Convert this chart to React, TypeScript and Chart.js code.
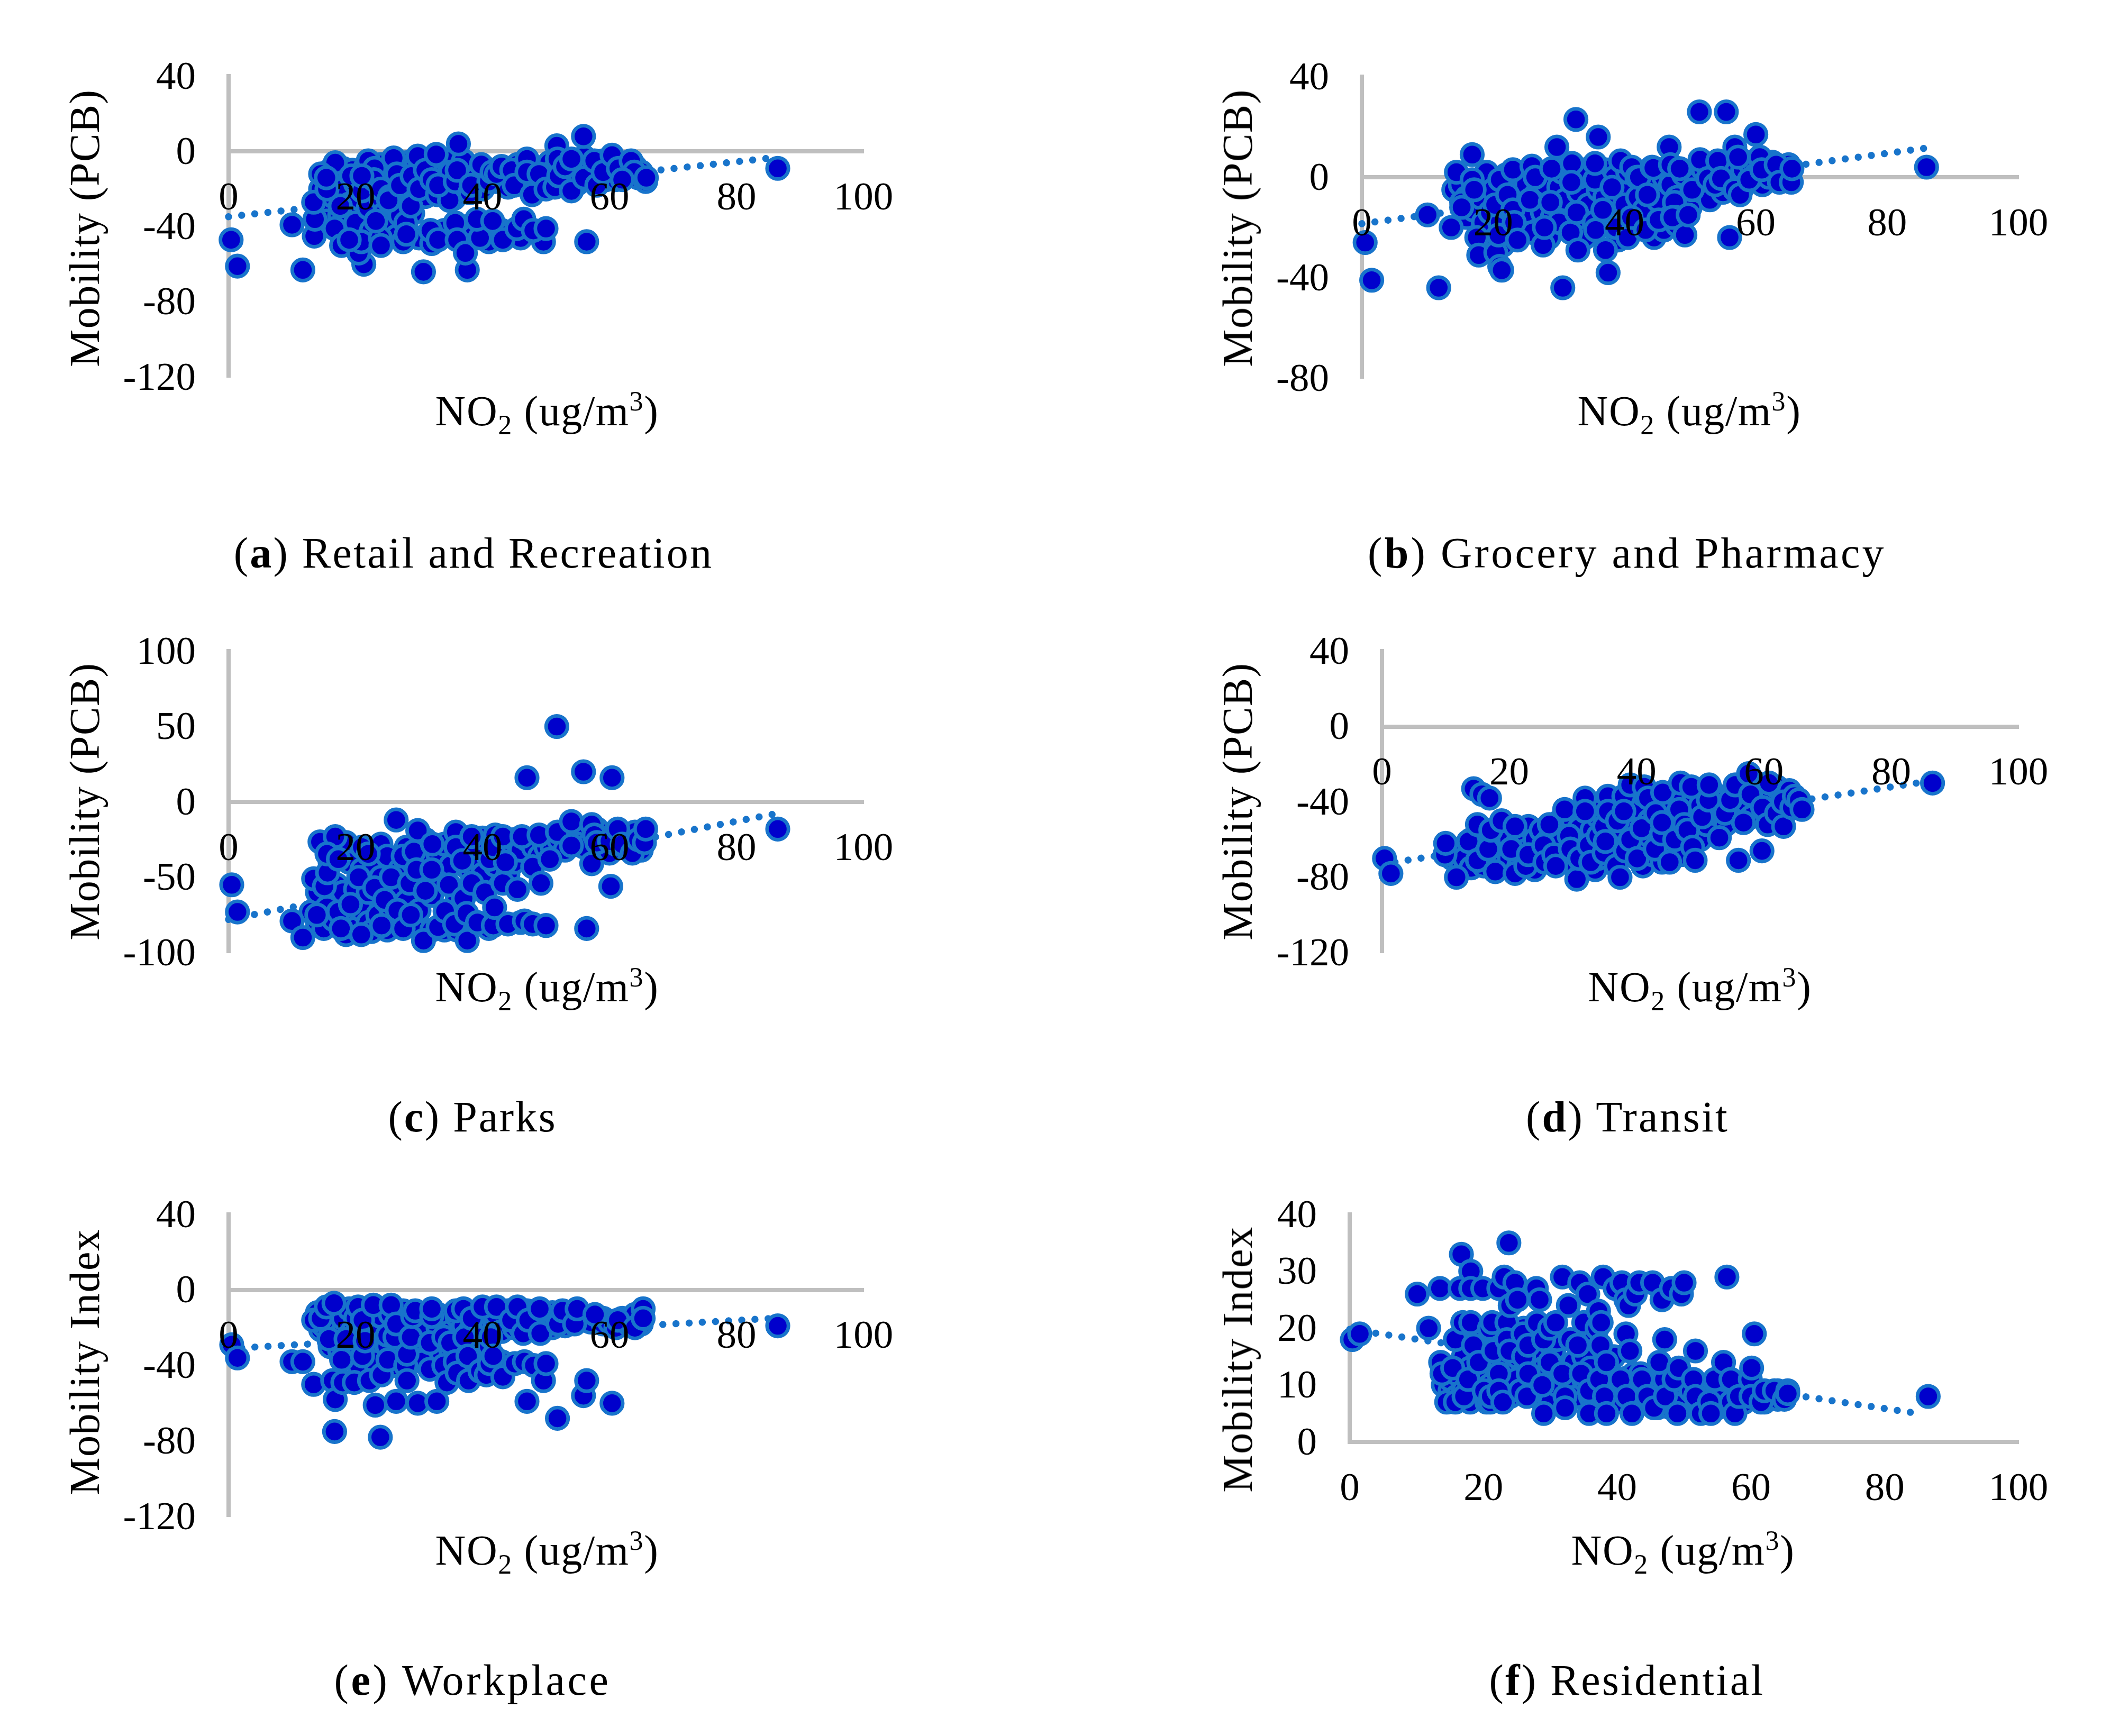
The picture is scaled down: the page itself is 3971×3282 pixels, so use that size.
import React, { useEffect, useRef } from "react";
import { Chart, registerables } from "chart.js";

Chart.register(...registerables);

const xTicksMax = 100;

const retailCloud = [
  [14.5,-20],[15,-30],[15.5,-37],[16,-10],[16.5,-24],[17,-15],[17.5,-34],[18,-9],[18,-20],[18.5,-44],[19,-28],[19.5,-10],[20,-17],[20,-38],[20.5,-25],[21.5,-9],[22,-19],[22,-30],[22.5,-42],[23,-12],[24,-25],[24,-7],[24.5,-33],[25,-16],[25,-41],[26,-8],[26,-29],[26.5,-45],[27,-12],[27,-34],[28,-6],[28,-22],[29,-17],[29,-33],[29.5,-8],[30,-13],[30,-46],[31,-5],[31,-24],[32,-19],[32,-49],[33,-8],[33.5,-13],[34,-21],[34,-42],[34.5,-5],[35,-11],[35.5,-25],[37,-15],[37,-40],[38,-9],[38.5,-45],[39,-13],[40,-20],[40,-40],[40.5,-9],[41,-48],[42,-16],[43,-14],[43,-42],[44,-19],[44,-44],[45,-12],[45.5,-7],[46,-15],[46,-46],[47,-18],[48,-8],[48.5,-17],[49.5,-9],[50,-14],[50.5,-6],[51,-11],[52,-17],[52.5,-8],[53,-15],[54,-11],[55,-8],[55,-17],[56,-3],[56.5,-9],[57,-15],[58,-9],[59,-5],[59.5,-15],[60,-10],[61,-5],[61,-15],[62,-9],[63,-13],[64,-8],[64.5,-14],[65,-11]
];
const retailPoints = [
  [0.4,-47],[1.4,-61],[11.7,-63],[30.7,-64],[37.6,-63],[21.3,-60],[10,-39],[13.5,-45],[13.6,-36],[13.4,-27],[16.7,-41],[17.8,-50],
  [20.5,-54],[20.9,-48],[23.9,-46],[23.2,-37],[27.5,-48],[27.9,-38],[28,-44],[31.8,-42],[33,-47],[35.7,-38],[36,-47],[37.3,-54],
  [39.6,-46],[39.1,-36],[41.6,-37],[43.2,-47],[45.4,-41],[46.5,-36],[49.6,-48],[48,-42],[50,-41],[56.4,-48],[19,-47],[24,-50],
  [17.6,-29],[15.5,-20],[16.8,-6],[14.5,-12],[15.4,-14],[19.3,-13],[21,-21],[22,-5],[23,-9],[22.9,-15],[24,-20],[21,-13],
  [26,-3.5],[26.5,-12],[25.4,-24],[25.2,-26],[27,-18],[28.7,-29],[28.9,-13],[29.8,-2.5],[30,-20],[31,-10],[32.7,-1.6],[32,-15],
  [32.9,-23],[34.8,-26],[33,-18],[35.7,-16],[37,-5],[36.2,4],[36,-10],[38,-22],[38.2,-18],[39.8,-7],[41,-16],[41.5,-11],[42.2,-12],
  [43,-8],[44.6,-10],[45,-18],[47,-4],[47,-11],[47.8,-23],[48.9,-12],[50,-20],[51.4,-19],[51.7,3],[51.8,-4],[52,-13],[53,-8],
  [54,-4],[54,-21],[55.9,8],[56,-14],[57.6,-5],[58,-18],[59,-11],[60.4,-2],[61.4,-9],[63.4,-5],[63.9,-11],[62,-15],[65.7,-16],[65.8,-14],[86.5,-9]
];
const retailTrend = [[0,-34.7],[86,-3.3]];

const groceryCloud = [
  [14,-5],[15,-3],[16,-8],[16,-16],[17,-13],[18,-1],[18,-8],[18.5,-18],[19,2],[19,-26],[19.5,-14],[20,-5],[21,-18],[21.5,-27],[22,1],[22,-12],[23,-6],[24,-20],[24.5,0],[25,-14],[25,-3],[26,-22],[26.5,-7],[27,2],[27.5,-14],[28,-3],[28.5,-24],[29,-16],[30,-4],[30,-18],[30.5,2],[31,-9],[33,-6],[33,0],[33.5,-17],[34,3],[34,-24],[34.5,-11],[36,-5],[37,3],[37,-8],[38,-15],[38.5,0],[39,-25],[40,-5],[40,-11],[40.5,2],[41,-19],[42,-8],[43,0],[43,-13],[44,-4],[44.5,-24],[45,-9],[46,0],[46,-21],[47,-3],[48,-8],[48,-19],[49,1],[50,-8],[50,-12],[51,-2],[52,3],[52,-6],[53,5],[53,-9],[55,2],[55,-6],[56,6],[56,-2],[58,3],[58,-4],[59,6],[60,1],[61,-3],[61.5,4],[62,0],[62.5,6],[64,2],[64.5,-1],[65,5]
];
const groceryPoints = [
  [0.5,-26],[1.5,-41],[11.7,-44],[10,-15],[13.6,-20],[15.2,-10],[15.2,-12],[14.4,2],[16.8,9],[16.8,-1],[17.1,-5],[17.5,-24],[17.8,-31],
  [20.3,-11],[20.4,-30],[20.8,-23],[21,-35.5],[21.3,-37],[21,-1],[22.2,-7],[23,3],[23,-13],[23.2,-18],[23.7,-25],[25.6,-9],[25.9,4.4],
  [26.4,0],[27.6,-27],[27.8,-20],[28.7,-10],[28.9,3.4],[29.7,12],[30.6,-44],[31.8,-22],[32,5.5],[31.9,-2],[32.6,23],[32.7,-14],[32.9,-29],
  [35.4,-18],[35.5,-1],[35.5,5.5],[35.6,-21],[36,16],[36.7,-13],[37.1,-29],[37.5,-38],[38.1,-4],[38.7,-20],[39.4,6.5],[40.5,-24],[41,-16],
  [41.1,4],[41.9,0],[42.2,0],[43.2,-21],[43.5,-7],[44.2,4],[44.4,3.7],[45.2,-17],[46.8,12],[47,5],[47.6,-10],[47.9,-16],[47.3,-16],[48.4,3.4],
  [49.2,-23],[49.7,-15],[50.3,-5],[51.4,26],[51.5,7],[52.7,-0.5],[53.8,-3],[54.2,6.5],[54.7,-0.5],[55.5,26],[56,-24],[56.8,12],[56.8,-5],
  [57.6,-7],[57.3,8],[59,-1],[60,17],[60.6,8],[60.9,3],[63.1,5],[63.6,-2],[65.4,-2],[65.5,3.4],[86,4]
];
const groceryTrend = [[0,-18.5],[86,11.6]];

const parksCloud = [
  [13,-73],[14,-80],[14,-60],[15,-84],[15.5,-70],[16,-40],[16.5,-78],[17,-30],[17,-55],[18,-60],[18,-80],[18.5,-88],[18.5,-27],[19,-40],[19.5,-75],[20,-84],[20,-58],[21,-72],[21,-45],[22,-80],[22,-60],[22.5,-86],[23,-42],[23.5,-75],[24,-28],[24,-50],[25,-85],[25,-36],[25.5,-70],[26,-60],[27,-45],[27,-78],[28,-30],[28,-66],[29,-82],[29,-40],[30,-52],[30,-72],[31,-25],[31,-38],[32,-85],[32,-62],[33,-35],[33,-50],[34,-28],[34,-85],[35,-42],[36,-65],[36,-85],[37,-30],[38,-45],[38,-82],[39,-36],[39,-30],[40,-24],[40,-48],[41,-84],[42,-42],[42,-22],[43,-30],[44,-48],[44,-33],[45,-25],[45,-40],[46,-80],[46,-32],[47,-25],[48,-30],[49,-36],[50,-25],[50,-30],[51,-30],[52,-25],[53,-32],[53,-20],[55,-22],[55,-28],[56,-30],[58,-18],[59,-24],[60,-34],[61,-28],[62,-22],[63,-30],[64,-20],[65,-32]
];
const parksPoints = [
  [0.5,-55],[1.4,-73],[10,-79],[11.7,-90],[13.9,-75],[13.4,-51],[15.1,-56],[15.6,-47],[14.4,-26.5],[16.8,-23],[15.5,-34.5],[17.3,-38],[17.3,-73],
  [17.7,-84],[19.2,-68],[20.5,-50],[20.9,-88],[21,-30],[22,-34.5],[23,-57],[24.1,-82],[24.6,-65],[25.6,-50],[26.4,-12],[26.6,-72],[27.5,-84],
  [27.5,-36],[28.5,-54],[28.7,-75],[29.2,-33],[29.6,-45],[29.8,-19],[30.7,-92],[31,-59],[32,-45],[32.1,-28],[33,-83],[34.1,-72.5],[34.7,-55],
  [35.6,-81],[35.8,-20],[35.8,-30],[36.8,-39],[37,-64],[37.5,-74],[37.6,-92],[38.3,-23],[38.3,-54],[39.2,-80],[40.4,-60],[41.1,-38],[41.7,-30],
  [41.7,-82],[41.9,-70],[43.2,-23],[43.2,-54],[43.6,-40],[44,-81],[45.5,-58],[46.2,-23],[46.6,-79],[47,16],[47.9,-43],[47.9,-81],[48.9,-22],
  [49.2,-54],[50,-82],[50.6,-38],[51.7,50],[51.8,-20],[54,-13],[54,-29],[55.9,20],[56.4,-84],[57.2,-15],[57.2,-41],[57.6,-22],[58,-27],[60.2,-56],
  [60,-26],[60.4,16],[61.3,-18],[62,-28],[63.6,-34],[64.5,-25],[65.5,-27],[65.7,-18],[86.5,-18]
];
const parksTrend = [[0,-78],[86,-8]];

const transitCloud = [
  [11,-70],[12,-65],[12.5,-74],[13,-70],[14,-60],[14,-75],[15,-60],[16,-55],[16,-74],[17,-62],[17,-70],[18,-58],[18.5,-66],[19,-73],[19.5,-55],[20,-70],[20,-60],[21,-63],[21.5,-74],[22,-57],[22.5,-66],[23,-53],[24,-60],[24,-76],[25,-55],[25,-68],[26,-61],[26.5,-72],[27,-56],[28,-50],[28,-62],[28.5,-72],[29,-46],[30,-50],[30.5,-62],[31,-54],[32,-68],[33,-42],[33,-55],[33.5,-76],[34,-48],[34,-70],[35,-40],[36,-50],[36,-60],[37,-42],[37,-68],[38,-55],[39,-40],[39,-50],[40,-62],[40.5,-44],[41,-36],[41,-74],[42,-50],[42,-58],[42.5,-68],[43,-40],[44,-72],[44.5,-44],[45,-50],[45,-64],[46,-36],[46,-52],[47,-40],[47,-68],[48,-46],[49,-36],[49,-50],[50,-42],[50,-60],[51,-52],[52,-35],[52,-46],[53,-40],[54,-52],[55,-42],[55,-36],[56,-46],[57,-32],[57,-40],[58,-48],[59,-36],[60,-44],[61,-38],[62,-32],[63,-48],[64,-34]
];
const transitPoints = [
  [0.4,-70],[1.4,-78],[9.9,-68],[10,-62],[11.7,-80],[13.6,-61],[14.4,-33],[15,-52],[15,-71],[15.7,-36],[16.7,-65],[16.9,-38],[17.1,-55],[17.8,-77],
  [18.8,-50],[20.3,-65],[20.9,-53],[20.9,-78],[22.6,-74],[23,-68],[25.4,-63],[25.6,-72],[26.3,-52],[27,-68],[27.3,-74],[28.7,-44],[29.4,-58],[29.6,-65],
  [30.6,-81],[31,-70],[31.9,-38],[31.9,-45],[32.5,-63],[32.8,-72],[34,-58],[34.9,-53],[34.9,-67],[35.1,-61],[35.5,-37],[35.5,-45],[36.8,-74],[37,-50],
  [37.4,-80],[38,-37],[38,-45],[38.2,-66],[39,-31],[39,-60],[40.1,-70],[40.8,-54],[41.2,-32],[41.8,-38],[42.9,-65],[43,-46],[43.9,-57],[44,-51],[44.1,-35],
  [45.2,-72],[46,-60],[46.7,-44],[46.9,-30],[47.5,-52],[48,-55],[48.6,-32],[48.8,-64],[49.2,-71],[50.3,-48],[51.3,-39],[51.4,-31],[53,-59],[53.9,-46],
  [54.7,-39],[55.5,-31],[56,-71],[56.8,-51],[57.6,-25],[57.9,-36],[59.7,-66],[59.8,-43],[60.6,-52],[60.8,-30],[62,-46],[63,-40],[63.1,-53],[64.4,-43],
  [64.8,-37],[65.5,-39],[66,-44],[86.5,-30]
];
const transitTrend = [[0,-73],[86,-29]];

const workplaceCloud = [
  [14,-12],[14.5,-21],[15,-19],[16,-14],[16,-30],[17,-18],[17,-11],[17.5,-32],[18,-22],[18,-15],[19,-10],[19,-30],[19.5,-22],[20,-15],[20.5,-40],[21,-12],[22,-22],[22,-14],[22.5,-30],[23,-11],[23,-38],[24,-20],[24,-14],[25,-30],[25,-24],[25.5,-13],[26,-40],[27,-20],[27,-28],[27.5,-11],[28,-17],[29,-22],[29,-33],[30,-17],[30,-26],[30,-12],[30.5,-38],[31,-22],[33,-13],[33,-20],[33.5,-33],[34,-16],[35,-22],[35,-32],[36,-14],[36.5,-29],[37,-19],[38,-22],[38,-40],[39,-15],[39,-30],[40,-20],[40,-14],[40.5,-38],[41,-30],[42,-18],[42,-13],[43,-22],[43,-38],[44,-11],[45,-20],[46,-14],[46,-20],[47,-11],[48,-20],[48,-13],[50,-20],[50,-14],[51,-12],[51,-20],[53,-16],[53,-19],[55,-14],[56,-15],[57,-17],[59,-15],[59,-18],[60,-17],[61,-20],[62,-15],[63,-18],[64,-13],[65,-18]
];
const workplacePoints = [
  [0.5,-29],[1.4,-36],[10,-38],[11.7,-38],[13.4,-50],[13.4,-16],[14.5,-15],[15.4,-9],[15.8,-26],[16.4,-48],[16.6,-7],[16.7,-75],[16.8,-58],[17.8,-37],
  [18,-49],[18.5,-26],[19.8,-49],[20.4,-9],[21.1,-16],[21.1,-35],[21.5,-27],[22.2,-48],[22.8,-8],[23.1,-61],[23.9,-78],[24.1,-45],[25.1,-37],[25.6,-8],
  [26.2,-25],[26.4,-18],[26.4,-59],[27.9,-40],[28.1,-34],[28.1,-48],[28.7,-25],[29,-14],[29.4,-11],[29.8,-60],[31.7,-28],[31.7,-42],[32,-14],[32,-10],
  [32.8,-59],[33.9,-25],[33.9,-40],[34.4,-49],[34.9,-28],[35.7,-38],[35.8,-11],[36,-44],[37,-10],[37.2,-25],[37.7,-35],[37.8,-48],[38.3,-15],[39.6,-43],
  [40,-9],[40.6,-45],[41.1,-39],[41.3,-25],[41.7,-35],[42.2,-9],[43.2,-46],[44.5,-16],[45.1,-39],[45.5,-9],[46.4,-23],[46.6,-38],[47,-59],[47.2,-16],
  [48.1,-40],[49,-10],[49.1,-23],[49.6,-48],[50,-39],[51.8,-68],[51.9,-18],[52.6,-11],[54.5,-18],[54.9,-10],[55.9,-56],[56.4,-48],[57.7,-13],[60.4,-60],
  [61.3,-16],[64,-20],[65.3,-10],[65.3,-15],[86.5,-19]
];
const workplaceTrend = [[0,-31],[86,-15]];

const residentialCloud = [
  [14,10],[15,9],[15,11],[16,8],[16,12],[17,9],[17,15],[18,7],[18,13],[18.5,19],[19,10],[19,18],[20,12],[20,16],[20.5,7],[21,10],[21,14],[22,18],[22.5,14],[23,10],[24,12],[24,8],[24.5,19],[25,15],[25,11],[25.5,17],[26,20],[27,9],[27.5,15],[28,11],[28,8],[28.5,16],[29,13],[30,9],[30,7],[30.5,16],[31,10],[31,18],[32,13],[33,10],[33.5,14],[34,8],[35,11],[35,15],[36,8],[36,13],[36.5,18],[37,7],[38,10],[39,9],[39,7],[39.5,15],[40,8],[40.5,7],[41,10],[42,9],[42.5,12],[43,7],[44,10],[44,7],[45,9],[46,10],[46,6],[47,11],[48,8],[48,6],[49,9],[50,7],[50,10],[51,9],[52,7],[52,10],[53,9],[54,8],[55,10],[55,6],[56,8],[56,11],[57,7],[58,10],[59,9],[59,7],[60,10],[61,9],[62,7],[63,8],[64,9],[64,7.5]
];
const residentialPoints = [
  [0.4,18],[1.5,19],[10.1,26],[11.8,20],[13.5,27],[13.6,14],[13.8,12],[14.5,7],[15.4,13],[15.8,18],[15.8,7],[16.5,27],[16.7,33],[16.9,21],[17.1,8],[17.7,11],
  [18.1,30],[18.1,27],[18.1,21],[18.5,17],[19.3,14],[19.9,27],[20.1,9],[20.9,20],[21,7],[21.1,8],[21.3,21],[21.5,16],[22.3,27],[22.3,12],[22.3,9],[22.9,7],
  [23.1,29],[23.5,21],[23.5,18],[23.8,35],[23.9,16],[24,24],[24.7,28],[25.1,25],[25.5,9],[25.9,19],[26,15],[26.5,8],[26.7,17],[26.7,12],[27.9,27],[28,21],
  [28.4,25],[28.8,10],[29,18],[29,5],[29.9,20],[29.9,14],[30.8,21],[31.8,29],[31.8,12],[32.2,8],[32.2,6],[32.7,24],[33,18],[34.1,17],[34.4,28],[34.6,12],
  [35,21],[35.6,26],[35.8,9],[35.8,5],[37,20],[37.2,23],[37.3,11],[37.5,17],[37.6,21],[37.9,29],[38.1,8],[38.4,14],[38.4,5],[39.7,27],[40.5,11],[40.7,28],
  [41.3,25],[41.3,19],[41.4,8],[41.7,24],[41.9,16],[42.2,5],[42.7,26],[43.3,28],[43.5,12],[43.7,11],[44.5,8],[45.3,28],[45.5,6],[46.3,14],[46.7,25],[47.1,18],
  [47.2,8],[48.1,27],[48.5,11],[49,5],[49.2,13],[49.6,26],[50,28],[51.4,11],[51.7,16],[51.7,8],[52.5,5],[53.8,7],[54,5],[54.6,11],[55.9,14],[56.4,29],[57,11],
  [57.6,5],[58.2,8],[59.9,11],[60.1,13],[60.5,19],[60,8],[61.5,7],[62,9],[63.5,9],[65,7.5],[65.5,9],[65.5,8.5],[86.5,8]
];
const residentialTrend = [[0,19.8],[85,5]];

const markerFill = "#0000CC";
const markerEdge = "#1874CB";
const axisGray = "#BFBFBF";
const serif = "'Liberation Serif', serif";

type Panel = {
  cloud: number[][]; points: number[][]; trend: number[][];
  l: number; t: number; r: number; b: number;
  yMin: number; yMax: number; yStep: number;
};

const panels: Panel[] = [
  { cloud: retailCloud, points: retailPoints, trend: retailTrend, l: 432, t: 144, r: 1632, b: 713, yMin: -120, yMax: 40, yStep: 40 },
  { cloud: groceryCloud, points: groceryPoints, trend: groceryTrend, l: 2574, t: 145, r: 3815, b: 715, yMin: -80, yMax: 40, yStep: 40 },
  { cloud: parksCloud, points: parksPoints, trend: parksTrend, l: 432, t: 1231, r: 1632, b: 1801, yMin: -100, yMax: 100, yStep: 50 },
  { cloud: transitCloud, points: transitPoints, trend: transitTrend, l: 2612, t: 1231, r: 3815, b: 1801, yMin: -120, yMax: 40, yStep: 40 },
  { cloud: workplaceCloud, points: workplacePoints, trend: workplaceTrend, l: 432, t: 2296, r: 1632, b: 2867, yMin: -120, yMax: 40, yStep: 40 },
  { cloud: residentialCloud, points: residentialPoints, trend: residentialTrend, l: 2551, t: 2296, r: 3815, b: 2726, yMin: 0, yMax: 40, yStep: 10 },
];

const padL = 220, padT = 70, padR = 130, padB = 130;

const zeroPads = (s: any) => {
  s.paddingLeft = s.paddingRight = s.paddingTop = s.paddingBottom = 0;
};

function PanelChart({ p }: { p: Panel }) {
  const ref = useRef<HTMLCanvasElement>(null);
  useEffect(() => {
    const chart = new Chart(ref.current!, {
      type: "scatter",
      data: {
        datasets: [
          {
            data: [...p.cloud, ...p.points].map(([x, y]) => ({ x, y })),
            backgroundColor: markerFill, borderColor: markerEdge,
            pointRadius: 20.2, pointBorderWidth: 6.8, pointHoverRadius: 20.2, clip: false,
          } as any,
          {
            data: p.trend.map(([x, y]) => ({ x, y })),
            showLine: true, pointRadius: 0, borderColor: markerEdge, borderWidth: 13.5,
            borderDash: [0.01, 24.9], borderCapStyle: "round", clip: false,
          } as any,
        ],
      },
      options: {
        animation: false, responsive: false, devicePixelRatio: 1,
        layout: { padding: { left: 0, top: padT, right: padR, bottom: padB } },
        plugins: { legend: { display: false }, tooltip: { enabled: false } },
        scales: {
          x: {
            type: "linear", min: 0, max: xTicksMax, position: { y: 0 } as any,
            grid: { display: false, drawTicks: false },
            border: { color: axisGray, width: 8 },
            ticks: { stepSize: 20, color: "#000", font: { family: serif, size: 75 }, padding: 45, z: 1, maxRotation: 0 },
            afterFit: zeroPads,
          },
          y: {
            type: "linear", min: p.yMin, max: p.yMax, position: "left",
            grid: { display: false, drawTicks: false },
            border: { color: axisGray, width: 8 },
            ticks: { stepSize: p.yStep, color: "#000", font: { family: serif, size: 75 }, padding: 62, z: 1, labelOffset: 4 },
            afterFit: (s: any) => { s.width = padL; zeroPads(s); },
          },
        },
      },
    } as any);
    return () => chart.destroy();
  }, [p]);
  const w = p.r - p.l + padL + padR, h = p.b - p.t + padT + padB;
  return (
    <canvas ref={ref} width={w} height={h}
      style={{ position: "absolute", left: p.l - padL, top: p.t - padT, width: w, height: h }} />
  );
}

const textBase: React.CSSProperties = {
  position: "absolute", fontFamily: serif, color: "#000", whiteSpace: "nowrap", lineHeight: 1,
};

function NoTitle({ x, y }: { x: number; y: number }) {
  return (
    <div style={{ ...textBase, left: x, top: y, fontSize: 80, letterSpacing: 1.6, transform: "translate(-50%,-50%)" }}>
      NO<sub style={{ fontSize: 52, lineHeight: 0 }}>2</sub> (ug/m<sup style={{ fontSize: 52, lineHeight: 0 }}>3</sup>)
    </div>
  );
}
function YTitle({ x, y, text }: { x: number; y: number; text: string }) {
  return (
    <div style={{ ...textBase, left: x, top: y, fontSize: 80, letterSpacing: 1.5, transform: "translate(-50%,-50%) rotate(-90deg)" }}>{text}</div>
  );
}
function Caption({ x, y, tag, text, sp }: { x: number; y: number; tag: string; text: string; sp: number }) {
  return (
    <div style={{ ...textBase, left: x, top: y, fontSize: 82, letterSpacing: sp, transform: "translate(-50%,-50%)" }}>
      (<b>{tag}</b>) {text}
    </div>
  );
}

export default function App() {
  return (
    <div style={{ position: "absolute", left: 0, top: 0, width: 3971, height: 3282, background: "#fff", overflow: "hidden" }}>
      {panels.map((p, i) => <PanelChart key={i} p={p} />)}
      <YTitle x={160} y={431} text="Mobility (PCB)" />
      <YTitle x={2339} y={431} text="Mobility (PCB)" />
      <YTitle x={160} y={1515} text="Mobility (PCB)" />
      <YTitle x={2339} y={1515} text="Mobility (PCB)" />
      <YTitle x={160} y={2575} text="Mobility Index" />
      <YTitle x={2339} y={2570} text="Mobility Index" />
      <NoTitle x={1034} y={777} />
      <NoTitle x={3193} y={777} />
      <NoTitle x={1034} y={1866} />
      <NoTitle x={3213} y={1866} />
      <NoTitle x={1034} y={2931} />
      <NoTitle x={3181} y={2931} />
      <Caption x={895} y={1046} tag="a" text="Retail and Recreation" sp={3.2} />
      <Caption x={3075} y={1046} tag="b" text="Grocery and Pharmacy" sp={4.3} />
      <Caption x={893} y={2112} tag="c" text="Parks" sp={2.8} />
      <Caption x={3076} y={2112} tag="d" text="Transit" sp={3.2} />
      <Caption x={893} y={3177} tag="e" text="Workplace" sp={4.6} />
      <Caption x={3075} y={3177} tag="f" text="Residential" sp={3.3} />
    </div>
  );
}
